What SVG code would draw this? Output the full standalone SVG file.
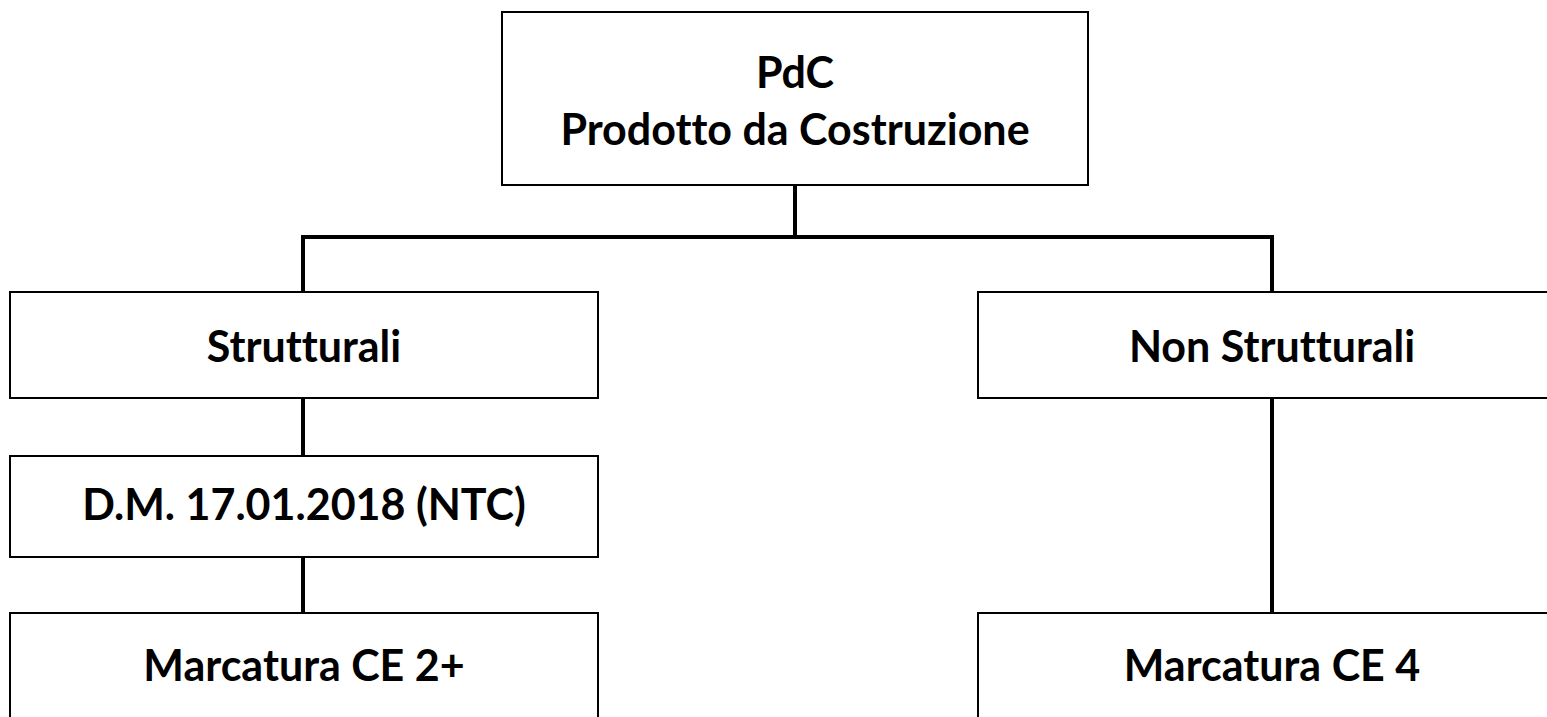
<svg xmlns="http://www.w3.org/2000/svg" width="1547" height="717" viewBox="0 0 1547 717">
<style>
.box{fill:#fff;stroke:#000;stroke-width:2}
.lbl{font-family:Lato,"Open Sans",sans-serif;font-weight:bold;font-size:43px;fill:#000;text-anchor:middle;font-variant-ligatures:none;font-feature-settings:"liga" 0,"clig" 0,"dlig" 0}
.conn{stroke:#000;stroke-width:4;fill:none}
</style>
<rect width="1547" height="717" fill="#fff"/>
<g id="connectors">
<line class="conn" x1="795" y1="185" x2="795" y2="237"/>
<polyline class="conn" points="303,292 303,237 1272,237 1272,292"/>
<line class="conn" x1="303" y1="398" x2="303" y2="456"/>
<line class="conn" x1="303" y1="557" x2="303" y2="613"/>
<line class="conn" x1="1272" y1="398" x2="1272" y2="613"/>
</g>
<g id="node-pdc">
<rect class="box" x="502" y="12" width="586" height="173"/>
<text class="lbl" x="795" y="88">PdC</text>
<text class="lbl" x="795" y="145">Prodotto da Costruzione</text>
</g>
<g id="node-strutturali">
<rect class="box" x="10" y="292" width="588" height="106"/>
<text class="lbl" x="304" y="362">Strutturali</text>
</g>
<g id="node-dm">
<rect class="box" x="10" y="456" width="588" height="101"/>
<text class="lbl" x="304" y="520">D.M. 17.01.2018 (NTC)</text>
</g>
<g id="node-ce2">
<rect class="box" x="10" y="613" width="588" height="110"/>
<text class="lbl" x="304" y="681">Marcatura CE 2+</text>
</g>
<g id="node-nonstrutturali">
<rect class="box" x="978" y="292" width="588" height="106"/>
<text class="lbl" x="1272" y="362">Non Strutturali</text>
</g>
<g id="node-ce4">
<rect class="box" x="978" y="613" width="588" height="110"/>
<text class="lbl" x="1272" y="681">Marcatura CE 4</text>
</g>
</svg>
